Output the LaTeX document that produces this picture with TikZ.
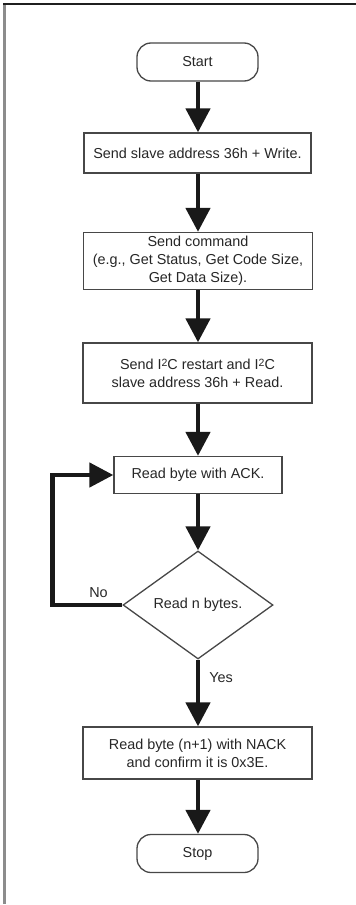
\documentclass[tikz,border=0pt]{standalone}
\usepackage{fontspec}
\setmainfont{Liberation Sans}
\usetikzlibrary{arrows.meta,shapes.geometric}
\newcommand{\supII}{\raisebox{2.8pt}{\fontsize{10.5}{10}\selectfont 2}}
\begin{document}
\begin{tikzpicture}[x=1pt,y=-1pt,
  txt/.style={font=\fontsize{14.4}{18}\selectfont, text=black!85},
  procbox/.style={txt, draw=black!72, line width=1.3pt, minimum height=#1, inner sep=0pt, align=center, minimum width=229pt},
  term/.style={txt, draw=black!72, line width=1.3pt, rounded corners=14pt, minimum width=121pt, minimum height=38pt, inner sep=0pt},
  decis/.style={txt, draw=black!72, line width=1.3pt, diamond, minimum width=150pt, minimum height=108pt, inner sep=0pt, align=center},
  flow/.style={draw=black!90, line width=4.6pt, -{Triangle[length=24pt,width=24pt]}},
  lbl/.style={txt}
]
\useasboundingbox (0,0) rectangle (356,905);
% frame
\draw[black!45, line width=3pt] (4.5,3) -- (4.5,904);
\draw[black!88, line width=2pt] (3,4.3) -- (356,4.3);

\node[term] (start) at (197.5,62) {Start};
\node[procbox=40pt, minimum width=227pt] (b1) at (197.5,153) {Send slave address 36h + Write.};
\node[procbox=57pt] (b2) at (198,261) {Send command\\(e.g., Get Status, Get Code Size,\\Get Data Size).};
\node[procbox=60pt] (b3) at (197.5,373) {Send I\supII C restart and I\supII C\\slave address 36h + Read.};
\node[procbox=37pt, minimum width=168pt] (b4) at (198,475) {Read byte with ACK.};
\node[decis] (dec) at (198,605) {Read n bytes.};
\node[procbox=52pt] (b5) at (197.5,753) {Read byte (n+1) with NACK\\and confirm it is 0x3E.};
\node[term] (stop) at (197.5,853.5) {Stop};

\draw[flow] (start.south -| 198,0) -- (b1.north -| 198,0);
\draw[flow] (b1.south -| 198,0) -- (b2.north -| 198,0);
\draw[flow] (b2.south -| 198,0) -- (b3.north -| 198,0);
\draw[flow] (b3.south -| 198,0) -- (b4.north -| 198,0);
\draw[flow] (b4.south -| 198,0) -- (dec.north);
\draw[flow] (dec.south) -- (b5.north -| 198,0);
\draw[flow] (b5.south -| 198,0) -- (stop.north -| 198,0);
\draw[flow] (dec.west) -- (52.5,605) |- (b4.west);

\node[lbl] (no) at (98.5,592.5) {No};
\node[lbl] (yes) at (221,678) {Yes};
\end{tikzpicture}
\end{document}
